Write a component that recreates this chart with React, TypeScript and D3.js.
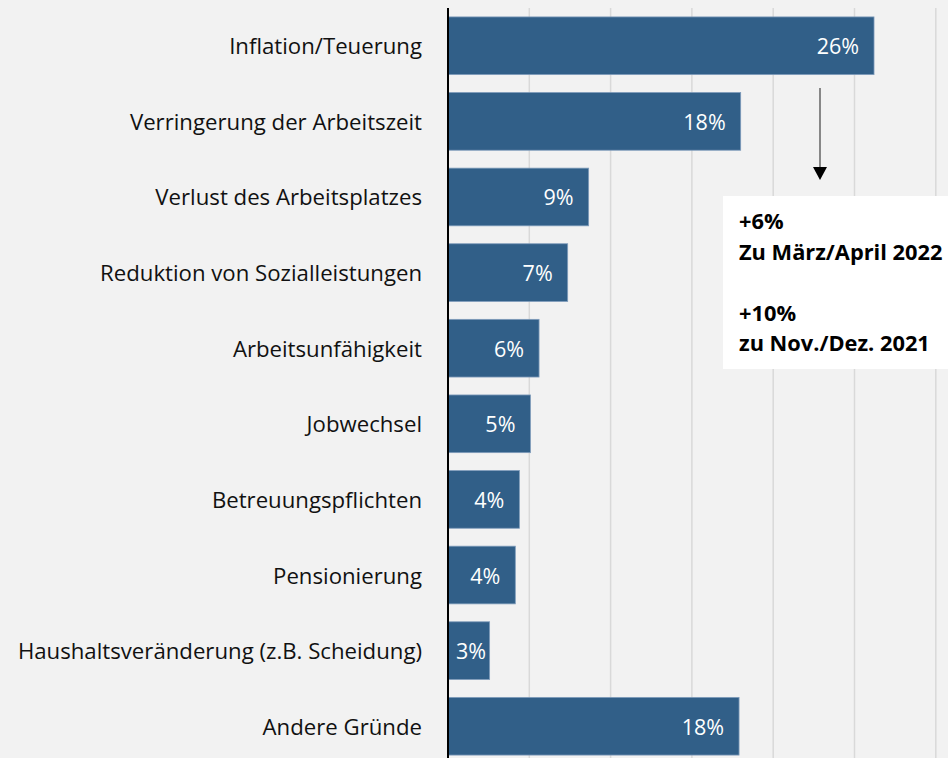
import React from "react";
import * as d3 from "d3";

const categories = [
  "Inflation/Teuerung",
  "Verringerung der Arbeitszeit",
  "Verlust des Arbeitsplatzes",
  "Reduktion von Sozialleistungen",
  "Arbeitsunfähigkeit",
  "Jobwechsel",
  "Betreuungspflichten",
  "Pensionierung",
  "Haushaltsveränderung (z.B. Scheidung)",
  "Andere Gründe",
];
const values = [26.2, 18.0, 8.65, 7.36, 5.6, 5.07, 4.39, 4.14, 2.56, 17.9];
const valueLabels = ["26%", "18%", "9%", "7%", "6%", "5%", "4%", "4%", "3%", "18%"];
const gridTicks = [5, 10, 15, 20, 25, 30];
const noteLines = ["+6%", "Zu März/April 2022", "", "+10%", "zu Nov./Dez. 2021"];

const W = 948;
const H = 758;
const FONT = "'Open Sans', 'Noto Sans', sans-serif";

export default function App() {
  const x = d3.scaleLinear().domain([0, 30]).range([448, 448 + 30 * 16.26]);
  const y = d3
    .scaleBand<string>()
    .domain(categories)
    .range([8, 764])
    .paddingInner(0.237)
    .paddingOuter(0.118);
  const bw = y.bandwidth();
  const barColor = "#315f88";
  const vfs = 21.5;

  return (
    <svg
      width={W}
      height={H}
      style={{ position: "fixed", left: 0, top: 0, display: "block" }}
      fontFamily={FONT}
    >
      <rect x={0} y={0} width={W} height={H} fill="#f2f2f2" />
      {gridTicks.map((t) => (
        <line key={t} x1={x(t)} x2={x(t)} y1={8} y2={H} stroke="#d9d9d9" strokeWidth={1.5} />
      ))}
      {categories.map((c, i) => {
        const y0 = y(c)!;
        const x0 = x(0);
        const x1 = x(values[i]);
        const lbl = valueLabels[i];
        const estW = (lbl.length - 1) * 0.572 * vfs + 0.83 * vfs;
        const tx = Math.max(x1 - 15, x0 + 8 + estW);
        return (
          <g key={c}>
            <rect x={x0} y={y0} width={x1 - x0} height={bw} fill={barColor} stroke="#7f9cbb" strokeWidth={0.8} />
            <text
              x={tx}
              y={y0 + bw / 2}
              textAnchor="end"
              dominantBaseline="central"
              fill="#ffffff"
              fontSize={vfs}
            >
              {lbl}
            </text>
            <text
              x={422}
              y={y0 + bw / 2}
              textAnchor="end"
              dominantBaseline="central"
              fill="#111"
              fontSize={22.2}
            >
              {c}
            </text>
          </g>
        );
      })}
      <line x1={x(0)} x2={x(0)} y1={8} y2={H} stroke="#000" strokeWidth={2} />

      {/* annotation */}
      <line x1={820} x2={820} y1={88} y2={168} stroke="#404040" strokeWidth={1.2} />
      <path d="M813,167 L827,167 L820,180 Z" fill="#000" />
      <rect x={723} y={196} width={W - 723} height={173} fill="#ffffff" />
      {noteLines.map((l, i) => (
        <text key={i} x={739} y={229 + i * 30.5} fontSize={21.8} fontWeight={700} fill="#000">
          {l}
        </text>
      ))}
    </svg>
  );
}
